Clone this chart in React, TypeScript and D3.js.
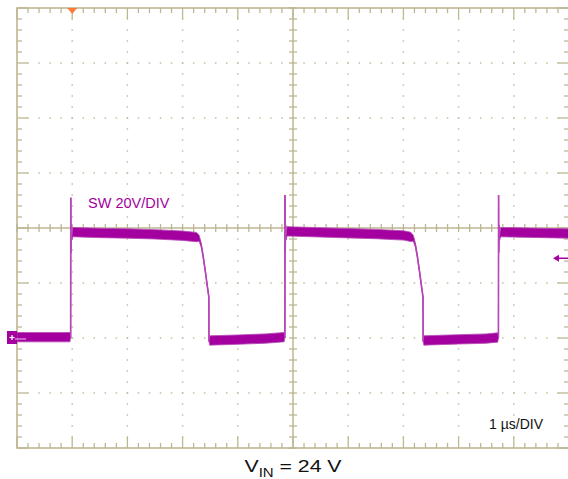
import React from "react";
import * as d3 from "d3";

// ---- data ----
const timeDomain = [0, 10]; // µs (1 µs/DIV, 10 divisions)
const voltDomain = [-40, 120]; // V (20 V/DIV, 8 divisions)
const timeDivs = d3.range(0, 11, 1);
const voltDivs = d3.range(-40, 121, 20);
const centerTime = 5;
const centerVolt = 40;

// SW node trace: time (µs), voltage (V), noise half-band (V)
const traceTime = [
  0, 0.96, 0.972, 0.974, 0.977, 0.985, 0.995, 1.01, 1.5, 2.0, 2.5, 3.0, 3.25, 3.3, 3.34, 3.37, 3.41, 3.45, 3.475,
  3.478, 3.49, 4.0, 4.5, 4.84, 4.853, 4.855, 4.858, 4.866, 4.876, 4.89, 5.5, 6.0, 6.5, 7.0, 7.13, 7.18, 7.22, 7.25,
  7.29, 7.33, 7.355, 7.358, 7.37, 8.0, 8.5, 8.71, 8.722, 8.724, 8.727, 8.735, 8.745, 8.76, 9.5, 10,
];
const traceVolt = [
  0.3, 0.3, 0.3, 51, 31, 41, 36.5, 38.5, 38.2, 38, 37.7, 37.2, 36.7, 36.3, 33.5, 30, 24.5, 18.5, 15,
  -1, -0.9, -0.6, -0.2, 0.3, 0.3, 52, 31, 41, 36.5, 38.8, 38.4, 38.1, 37.8, 37.3, 36.8, 36.3, 33.5, 30,
  24.5, 18.5, 15, -1, -0.9, -0.5, -0.2, 0.2, 0.2, 52, 31, 41, 36.5, 38.5, 38.2, 38,
];
const traceNoise = [
  1.7, 1.7, 0, 0, 0, 0, 0.9, 1.7, 1.7, 1.7, 1.7, 1.7, 1.7, 1.1, 0.6, 0.5, 0.4, 0.4, 0.3,
  0, 1.7, 1.7, 1.7, 1.7, 0, 0, 0, 0, 0.9, 1.7, 1.7, 1.7, 1.7, 1.7, 1.7, 1.1, 0.6, 0.5,
  0.4, 0.4, 0.3, 0, 1.7, 1.7, 1.7, 1.7, 0, 0, 0, 0, 0.9, 1.7, 1.7, 1.7,
];
const triggerTime = 1.0;
const triggerLevel = 29; // V
const groundLevel = 0; // V
const channelLabel = "SW 20V/DIV";
const timebaseLabel = "1 µs/DIV";

export default function App() {
  const W = 568, H = 479;
  const x0 = 17, x1 = 569, y0 = 8, y1 = 448;
  const x = d3.scaleLinear().domain(timeDomain).range([x0, x1]);
  const y = d3.scaleLinear().domain(voltDomain).range([y1, y0]);
  const gridCol = "#bdb693";
  const dotCol = "#c4bd9c";
  const trace = "#a3009f";

  const minorT = d3.range(timeDomain[0], timeDomain[1] + 0.001, 0.2);
  const minorV = d3.range(voltDomain[0], voltDomain[1] + 0.001, 4);
  const isMajorT = (t: number) => Math.abs(t - Math.round(t)) < 1e-6;
  const isMajorV = (v: number) => Math.abs(v / 20 - Math.round(v / 20)) < 1e-6;

  const pts = traceTime.map((t, i) => ({ t, v: traceVolt[i], n: traceNoise[i] }));
  const area = d3
    .area<{ t: number; v: number; n: number }>()
    .x((d) => x(d.t))
    .y0((d) => y(d.v - d.n))
    .y1((d) => y(d.v + d.n));
  const line = d3
    .line<{ t: number; v: number; n: number }>()
    .x((d) => x(d.t))
    .y((d) => y(d.v));

  const elems: React.ReactNode[] = [];
  // dotted major grid lines
  timeDivs.forEach((t) => {
    if (t === timeDomain[0] || t === timeDomain[1] || t === centerTime) return;
    minorV.forEach((v, j) => {
      if (j === 0 || j === minorV.length - 1) return;
      elems.push(<rect key={`vd${t}_${j}`} x={x(t) - 0.75} y={y(v) - 0.75} width={1.5} height={1.5} fill={dotCol} />);
    });
  });
  voltDivs.forEach((v) => {
    if (v === voltDomain[0] || v === voltDomain[1] || v === centerVolt) return;
    minorT.forEach((t, j) => {
      if (j === 0 || j === minorT.length - 1) return;
      elems.push(<rect key={`hd${v}_${j}`} x={x(t) - 0.75} y={y(v) - 0.75} width={1.5} height={1.5} fill={dotCol} />);
    });
  });
  // border ticks
  minorT.forEach((t, j) => {
    const L = isMajorT(t) ? 11 : 5;
    elems.push(<line key={`tt${j}`} x1={x(t)} x2={x(t)} y1={y0} y2={y0 + L} stroke={gridCol} strokeWidth={1.3} />);
    elems.push(<line key={`bt${j}`} x1={x(t)} x2={x(t)} y1={y1} y2={y1 - L} stroke={gridCol} strokeWidth={1.3} />);
    elems.push(<line key={`ct${j}`} x1={x(t)} x2={x(t)} y1={y(centerVolt) - 4} y2={y(centerVolt) + 4} stroke={gridCol} strokeWidth={1.3} />);
  });
  minorV.forEach((v, j) => {
    const L = isMajorV(v) ? 11 : 5;
    elems.push(<line key={`lt${j}`} x1={x0} x2={x0 + L} y1={y(v)} y2={y(v)} stroke={gridCol} strokeWidth={1.3} />);
    elems.push(<line key={`rt${j}`} x1={x1} x2={x1 - L} y1={y(v)} y2={y(v)} stroke={gridCol} strokeWidth={1.3} />);
    elems.push(<line key={`cv${j}`} x1={x(centerTime) - 4} x2={x(centerTime) + 4} y1={y(v)} y2={y(v)} stroke={gridCol} strokeWidth={1.3} />);
  });

  const font = "'Liberation Sans', Arial, Helvetica, sans-serif";
  const gy = y(groundLevel);
  const ty = y(triggerLevel);
  const tx = x(triggerTime);

  return (
    <svg width={W} height={H} style={{ position: "absolute", left: 0, top: 0, background: "#fff" }}>
      <rect x={0} y={0} width={W} height={H} fill="#fff" />
      {elems}
      <line x1={x0} x2={x1} y1={y(centerVolt)} y2={y(centerVolt)} stroke={gridCol} strokeWidth={1.5} />
      <line x1={x(centerTime)} x2={x(centerTime)} y1={y0} y2={y1} stroke={gridCol} strokeWidth={1.5} />
      <rect x={x0} y={y0} width={x1 - x0} height={y1 - y0} fill="none" stroke={gridCol} strokeWidth={1.6} />

      <path d={line(pts) || ""} fill="none" stroke="#b83ab8" strokeWidth={1.6} />
      <path d={area(pts) || ""} fill={trace} stroke="#b54ab5" strokeWidth={0.8} />

      <text x={88} y={208} fontFamily={font} fontSize={14.5} fill={trace}>{channelLabel}</text>
      <text x={489} y={429} fontFamily={font} fontSize={14} fill="#111">{timebaseLabel}</text>

      {/* ground marker */}
      <rect x={7} y={gy - 7} width={10} height={13} fill={trace} />
      <line x1={9.5} x2={14.5} y1={gy - 0.5} y2={gy - 0.5} stroke="#fff" strokeWidth={1.2} />
      <line x1={12} x2={12} y1={gy - 3} y2={gy + 2} stroke="#fff" strokeWidth={1.2} />
      <line x1={15} x2={26} y1={gy + 1} y2={gy + 1} stroke="#f0c0f0" strokeWidth={1} />

      {/* trigger level marker */}
      <line x1={557} x2={568} y1={ty} y2={ty} stroke={trace} strokeWidth={1.5} />
      <path d={`M${553},${ty} L${559},${ty - 3.5} L${559},${ty + 3.5} Z`} fill={trace} />

      {/* trigger position marker */}
      <path d={`M${tx - 5},${y0} L${tx + 5},${y0} L${tx},${y0 + 6} Z`} fill="#ff7a38" />

      <g transform={`translate(${x(centerTime)},472) scale(1.25,1)`}>
        <text x={0} y={0} textAnchor="middle" fontFamily={font} fontSize={17} fill="#111">
          V<tspan fontSize={12} dy={5}>IN</tspan>
          <tspan dy={-5}> = 24 V</tspan>
        </text>
      </g>
    </svg>
  );
}
